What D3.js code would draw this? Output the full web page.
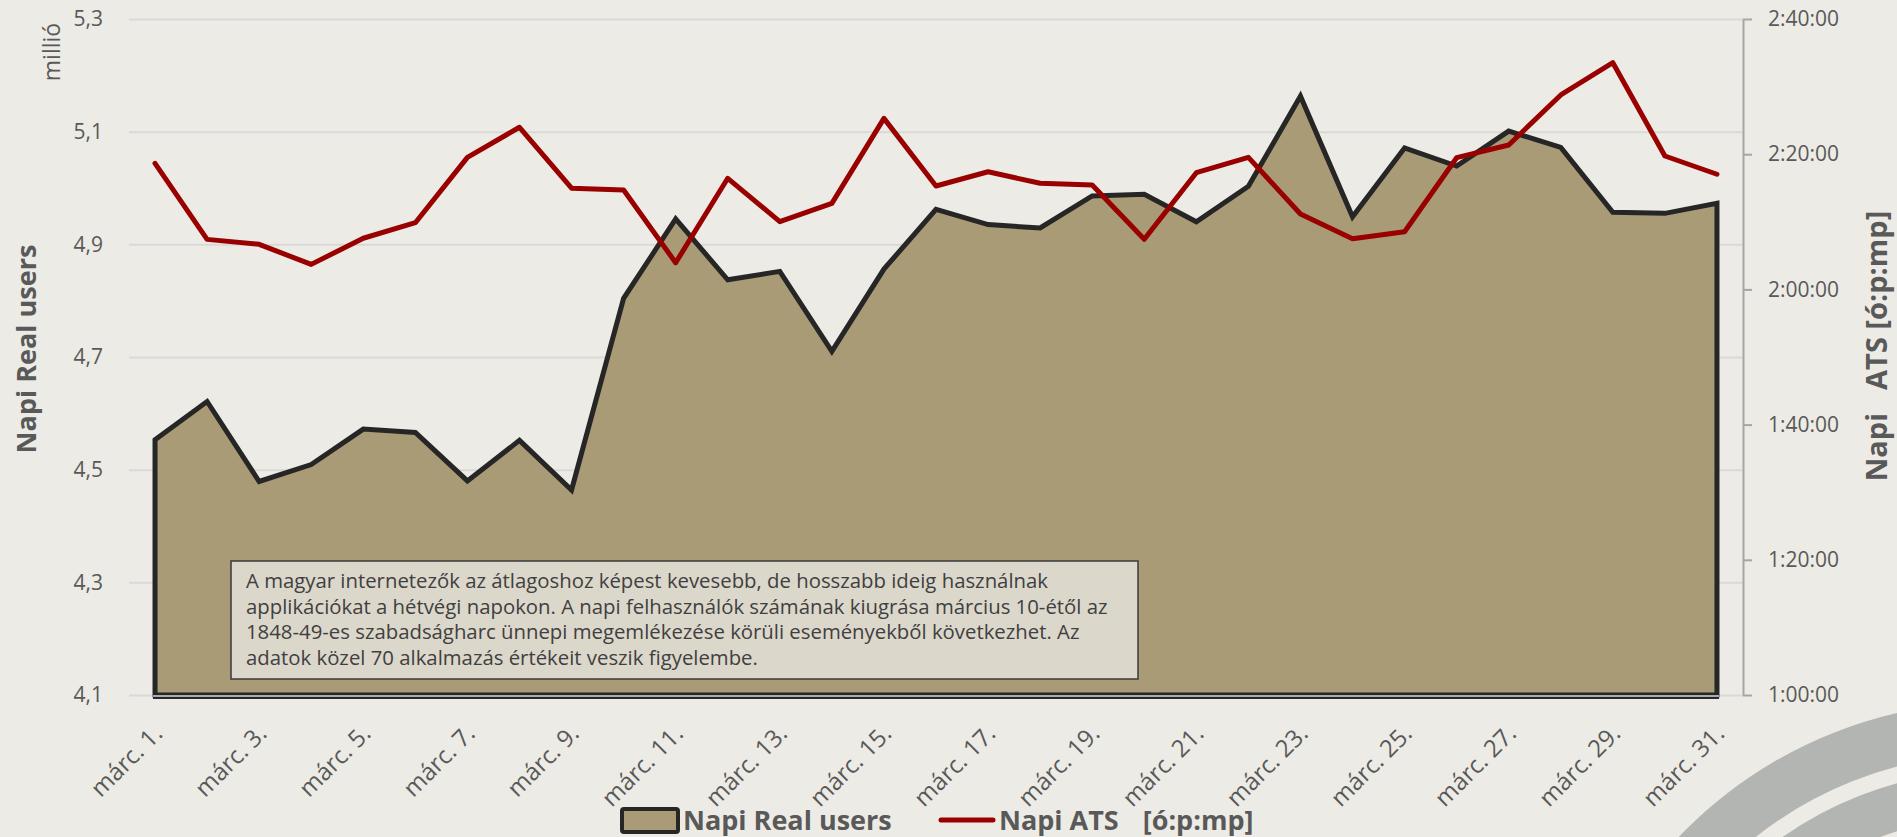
<!DOCTYPE html>
<html><head><meta charset="utf-8">
<script src="https://cdn.jsdelivr.net/npm/d3@7"></script>
<style>
html,body{margin:0;padding:0;background:#EDEBE5;}
svg{display:block;font-family:"Open Sans",sans-serif;}
</style></head><body>
<svg id="c" width="1897" height="837"></svg>
<script>
const categories = ["márc. 1.","márc. 2.","márc. 3.","márc. 4.","márc. 5.","márc. 6.","márc. 7.","márc. 8.","márc. 9.","márc. 10.",
  "márc. 11.","márc. 12.","márc. 13.","márc. 14.","márc. 15.","márc. 16.","márc. 17.","márc. 18.","márc. 19.","márc. 20.",
  "márc. 21.","márc. 22.","márc. 23.","márc. 24.","márc. 25.","márc. 26.","márc. 27.","márc. 28.","márc. 29.","márc. 30.","márc. 31."];
const realUsers = [4.553,4.621,4.479,4.509,4.572,4.566,4.480,4.552,4.464,4.804,
  4.945,4.837,4.852,4.710,4.856,4.962,4.935,4.929,4.986,4.989,
  4.940,5.003,5.163,4.949,5.071,5.039,5.101,5.072,4.957,4.955,4.973];
const atsValues = ["2:18:39","2:07:24","2:06:40","2:03:42","2:07:34","2:09:52","2:19:32","2:23:59","2:14:58","2:14:42",
  "2:03:57","2:16:26","2:10:01","2:12:44","2:25:18","2:15:18","2:17:24","2:15:42","2:15:26","2:07:25",
  "2:17:16","2:19:32","2:11:09","2:07:30","2:08:32","2:19:29","2:21:22","2:28:46","2:33:32","2:19:44","2:17:02"];
const leftTicks = [4.1,4.3,4.5,4.7,4.9,5.1,5.3];
const rightTicks = ["1:00:00","1:20:00","1:40:00","2:00:00","2:20:00","2:40:00"];
const xTickLabels = ["márc. 1.","márc. 3.","márc. 5.","márc. 7.","márc. 9.","márc. 11.","márc. 13.","márc. 15.","márc. 17.","márc. 19.","márc. 21.","márc. 23.","márc. 25.","márc. 27.","márc. 29.","márc. 31."];
const seriesNames = ["Napi Real users","Napi ATS  [ó:p:mp]"];
const leftTitle = "Napi Real users";
const rightTitle = "Napi  ATS [ó:p:mp]";
const unitLabel = "millió";
const noteLines = [
  "A magyar internetezők az átlagoshoz képest kevesebb, de hosszabb ideig használnak",
  "applikációkat a hétvégi napokon. A napi felhasználók számának kiugrása március 10-étől az",
  "1848-49-es szabadságharc ünnepi megemlékezése körüli eseményekből következhet. Az",
  "adatok közel 70 alkalmazás értékeit veszik figyelembe."
];

const toSec = s => { const p = s.split(":").map(Number); return p[0]*3600+p[1]*60+p[2]; };
const fmtTime = sec => { const h=Math.floor(sec/3600), m=Math.floor((sec%3600)/60), s=sec%60; return h+":"+String(m).padStart(2,"0")+":"+String(s).padStart(2,"0"); };

const C = {bg:"#EDEBE5", area:"#A99B76", areaStroke:"#262626", red:"#990000", grid:"#D9D9D9", text:"#595959", axis:"#A6A6A6"};
const L = 129, R = 1743, T = 19, B = 695;

const svg = d3.select("#c");
svg.append("rect").attr("width",1897).attr("height",837).attr("fill",C.bg);

// decoration rings
const deco = svg.append("g");
deco.append("circle").attr("cx",1995).attr("cy",1140).attr("r",412).attr("fill","none").attr("stroke","#B3B5B2").attr("stroke-width",52);
deco.append("circle").attr("cx",1995).attr("cy",1140).attr("r",347).attr("fill","none").attr("stroke","#B3B5B2").attr("stroke-width",46);

const x = d3.scaleBand().domain(categories).range([L,R]);
const xc = d => x(d) + x.bandwidth()/2;
const yL = d3.scaleLinear().domain([4.1,5.3]).range([B,T]);
const yR = d3.scaleLinear().domain([3600,9600]).range([B,T]);

// left axis + gridlines
const gL = svg.append("g").attr("transform",`translate(${L},0)`)
  .call(d3.axisLeft(yL).tickValues(leftTicks).tickSize(-(R-L)).tickPadding(26)
    .tickFormat(d => d3.format(".1f")(d).replace(".",",")));
gL.select(".domain").remove();
gL.selectAll(".tick line").attr("stroke",C.grid).attr("stroke-width",2);
gL.selectAll(".tick text").attr("fill",C.text).style("font-size","21px").style("font-family","Open Sans");

// right axis
const gR = svg.append("g").attr("transform",`translate(${R},0)`)
  .call(d3.axisRight(yR).tickValues(rightTicks.map(toSec)).tickSize(9).tickSizeOuter(0).tickPadding(16).tickFormat(fmtTime));
gR.select(".domain").attr("stroke",C.axis).attr("stroke-width",2);
gR.selectAll(".tick line").attr("stroke",C.axis).attr("stroke-width",2);
gR.selectAll(".tick text").attr("fill",C.text).style("font-size","21px").style("font-family","Open Sans");

// area
const data = categories.map((c,i)=>({c, u:realUsers[i], t:toSec(atsValues[i])}));
const area = d3.area().x(d=>xc(d.c)).y0(yL(4.1)).y1(d=>yL(d.u));
svg.append("path").datum(data).attr("d",area).attr("fill",C.area)
  .attr("stroke",C.areaStroke).attr("stroke-width",5).attr("stroke-linejoin","miter");
svg.append("line").attr("x1",xc(categories[0])-2).attr("x2",xc(categories[30])+2)
  .attr("y1",B+1).attr("y2",B+1).attr("stroke",C.grid).attr("stroke-width",1.5);
svg.append("line").attr("x1",xc(categories[0])-2).attr("x2",xc(categories[30])+2)
  .attr("y1",B+3).attr("y2",B+3).attr("stroke",C.areaStroke).attr("stroke-width",2);

// red line
const line = d3.line().x(d=>xc(d.c)).y(d=>yR(d.t));
svg.append("path").datum(data).attr("d",line).attr("fill","none")
  .attr("stroke",C.red).attr("stroke-width",5).attr("stroke-linejoin","round").attr("stroke-linecap","round");

// x axis labels
const gX = svg.append("g").attr("transform",`translate(0,${B})`)
  .call(d3.axisBottom(x).tickValues(xTickLabels).tickSize(0));
gX.select(".domain").remove();
gX.selectAll(".tick text").attr("fill",C.text).style("font-size","24px").style("font-family","Open Sans")
  .attr("text-anchor","end").attr("dy",0).attr("y",0)
  .attr("transform","translate(9,40) rotate(-45)");

// note box
const box = svg.append("g");
box.append("rect").attr("x",231).attr("y",561).attr("width",907).attr("height",118)
  .attr("fill","#DCD7CB").attr("stroke","#3A3A3A").attr("stroke-width",1.5);
const nt = box.selectAll("text.note").data(noteLines).join("text").attr("class","note")
  .attr("x",246).attr("y",(d,i)=>588+i*25.7).attr("fill","#404040")
  .style("font-size","17px").text(d=>d);
let maxW = d3.max(nt.nodes(), n=>n.getComputedTextLength());
nt.style("font-size",(17*862/maxW).toFixed(2)+"px");

// helper: text with a widened double space
function splitText(sel, str, gap){
  const i = str.indexOf("  ");
  sel.append("tspan").text(str.slice(0,i+1));
  sel.append("tspan").attr("dx",gap).text(str.slice(i+1));
}

// axis titles
svg.append("text").attr("transform","translate(36,349) rotate(-90)").attr("text-anchor","middle")
  .attr("fill",C.text).style("font-weight","bold").style("font-size","27px").text(leftTitle);
const rt = svg.append("text").attr("transform","translate(1887,346) rotate(-90)").attr("text-anchor","middle")
  .attr("fill",C.text).style("font-weight","bold").style("font-size","29px").style("white-space","pre");
splitText(rt, rightTitle, 8);
svg.append("text").attr("transform","translate(60,52) rotate(-90)").attr("text-anchor","middle")
  .attr("fill",C.text).style("font-size","23px").text(unitLabel);

// legend
const lg = svg.append("g");
lg.append("rect").attr("x",622).attr("y",809).attr("width",56).attr("height",23).attr("rx",2)
  .attr("fill",C.area).attr("stroke",C.areaStroke).attr("stroke-width",4);
lg.append("text").attr("x",683).attr("y",830).attr("fill",C.text).style("font-weight","bold").style("font-size","27px").text(seriesNames[0]);
lg.append("line").attr("x1",941).attr("x2",993).attr("y1",820).attr("y2",820)
  .attr("stroke",C.red).attr("stroke-width",5).attr("stroke-linecap","round");
const lt = lg.append("text").attr("x",999).attr("y",830).attr("fill",C.text).style("font-weight","bold").style("font-size","27px").style("white-space","pre");
splitText(lt, seriesNames[1], 10);
</script>
</body></html>
